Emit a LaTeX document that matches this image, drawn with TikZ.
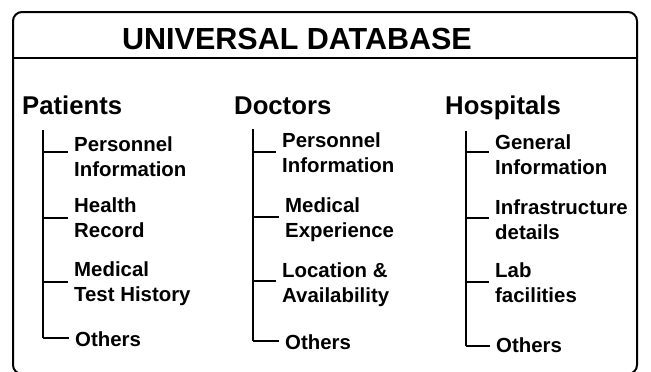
\documentclass[tikz,border=0pt]{standalone}
\usepackage{fontspec}
\setmainfont{Liberation Sans}
\begin{document}
\begin{tikzpicture}[x=1pt,y=-1pt,
  frame/.style={line width=2pt,rounded corners=9pt},
  trunk/.style={line width=2pt},
  twig/.style={line width=1.4pt},
  title/.style={inner sep=0pt,anchor=base,font=\fontsize{30.5}{33}\selectfont\bfseries},
  head/.style={inner sep=0pt,anchor=base west,font=\fontsize{25.7}{28}\selectfont\bfseries},
  item/.style={inner xsep=6pt,inner ysep=0pt,anchor=north west,align=left,
    font=\fontsize{20.4}{25}\selectfont\bfseries}]
\useasboundingbox (0,0) rectangle (651,372);
\clip (0,0) rectangle (651,372);
% frame
\draw[frame] (13,374) rectangle (637,12);
\coordinate (hl) at (13,58);
\coordinate (hr) at (637,58);
\draw[line width=1.6pt] (hl) -- (hr);
\node[title] (t) at (297,49) {UNIVERSAL DATABASE};
% headings
\node[head] (hp) at (22,114) {Patients};
\node[head] (hd) at (234,114) {Doctors};
\node[head] (hh) at (445,114) {Hospitals};
% Patients
\coordinate (pt) at (43,130);
\coordinate (pc) at (43,338);
\node[item] (p1) at (68,137) {Personnel\\Information};
\node[item] (p2) at (68,198) {Health\\Record};
\node[item] (p3) at (68,262) {Medical\\Test History};
\node[item] (p4) at (69,332) {Others};
\coordinate (pb1) at (43,152);
\coordinate (pb2) at (43,218);
\coordinate (pb3) at (43,282);
\draw[trunk] (pt) -- (pc);
\draw[twig] (pc) -- (pc -| p4.west);
\draw[twig] (pb1) -- (pb1 -| p1.west);
\draw[twig] (pb2) -- (pb2 -| p2.west);
\draw[twig] (pb3) -- (pb3 -| p3.west);
% Doctors
\coordinate (dt) at (253,129);
\coordinate (dc) at (253,341);
\node[item] (d1) at (276,133) {Personnel\\Information};
\node[item] (d2) at (279,198) {Medical\\Experience};
\node[item] (d3) at (276,263) {Location \&\\Availability};
\node[item] (d4) at (279,335) {Others};
\coordinate (db1) at (253,152);
\coordinate (db2) at (253,217);
\coordinate (db3) at (253,281);
\draw[trunk] (dt) -- (dc);
\draw[twig] (dc) -- (dc -| d4.west);
\draw[twig] (db1) -- (db1 -| d1.west);
\draw[twig] (db2) -- (db2 -| d2.west);
\draw[twig] (db3) -- (db3 -| d3.west);
% Hospitals
\coordinate (ht) at (466,131);
\coordinate (hc) at (466,346);
\node[item] (h1) at (489,135) {General\\Information};
\node[item] (h2) at (489,200) {Infrastructure\\details};
\node[item] (h3) at (489,263) {Lab\\facilities};
\node[item] (h4) at (490,338) {Others};
\coordinate (hb1) at (466,152);
\coordinate (hb2) at (466,218);
\coordinate (hb3) at (466,282);
\draw[trunk] (ht) -- (hc);
\draw[twig] (hc) -- (hc -| h4.west);
\draw[twig] (hb1) -- (hb1 -| h1.west);
\draw[twig] (hb2) -- (hb2 -| h2.west);
\draw[twig] (hb3) -- (hb3 -| h3.west);
\end{tikzpicture}
\end{document}
